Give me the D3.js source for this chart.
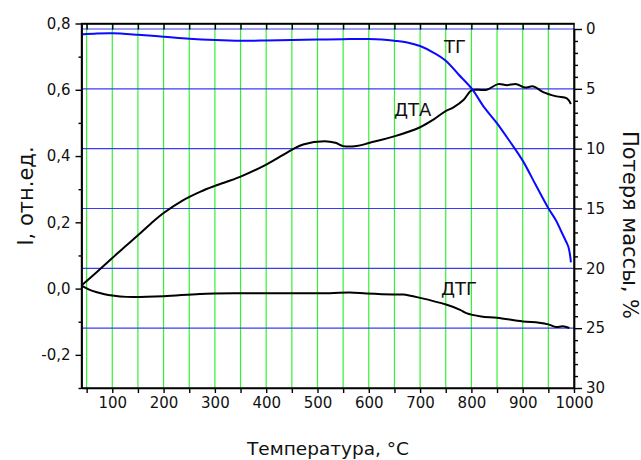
<!DOCTYPE html>
<html>
<head>
<meta charset="utf-8">
<script src="https://cdn.jsdelivr.net/npm/d3@7"></script>
<style>
  body { margin: 0; background: #fff; }
  svg text { font-family: "DejaVu Sans", sans-serif; fill: #111; }
  .axis path, .axis line { stroke: #000; stroke-width: 1.4; }
</style>
</head>
<body>
<div id="container"></div>
<script>
// temperatures (°C) and values
var tgT   = [40, 70, 100, 150, 200, 250, 300, 350, 400, 450, 500, 550, 600, 625, 650, 675, 700, 725, 750, 775, 800, 825, 850, 875, 900, 925, 950, 965, 975, 985, 989, 992, 994];
var tgV   = [0.46, 0.38, 0.36, 0.48, 0.64, 0.81, 0.92, 0.98, 0.96, 0.92, 0.88, 0.85, 0.84, 0.88, 0.98, 1.12, 1.42, 1.95, 2.65, 3.8, 4.95, 6.55, 7.88, 9.4, 11.0, 13.0, 14.98, 16.0, 16.9, 17.8, 18.2, 18.8, 19.5];

var dtaT  = [40, 70, 100, 125, 150, 175, 200, 236, 271, 300, 349, 401, 449, 472, 514, 535, 550, 576, 602, 651, 700, 726, 749, 765, 785, 800, 813, 830, 852, 869, 888, 904, 921, 940, 966, 986, 994];
var dtaV  = [0.009, 0.05, 0.092, 0.127, 0.161, 0.196, 0.228, 0.265, 0.292, 0.31, 0.337, 0.375, 0.418, 0.435, 0.445, 0.44, 0.43, 0.43, 0.44, 0.46, 0.487, 0.51, 0.535, 0.547, 0.57, 0.598, 0.6, 0.6, 0.617, 0.614, 0.617, 0.607, 0.61, 0.593, 0.58, 0.574, 0.557];

var dtgT  = [40, 55, 70, 85, 100, 128, 200, 271, 349, 450, 524, 563, 596, 648, 667, 700, 752, 778, 790, 819, 850, 900, 932, 950, 965, 978, 991];
var dtgV  = [0.009, -0.003, -0.011, -0.017, -0.021, -0.025, -0.023, -0.016, -0.014, -0.014, -0.014, -0.012, -0.015, -0.018, -0.018, -0.028, -0.049, -0.064, -0.074, -0.084, -0.088, -0.099, -0.103, -0.108, -0.116, -0.114, -0.119];

// ticks
var xMajor = [100, 200, 300, 400, 500, 600, 700, 800, 900, 1000];
var xMinor = [50, 150, 250, 350, 450, 550, 650, 750, 850, 950];
var yLMajor = [-0.2, 0, 0.2, 0.4, 0.6, 0.8];
var yLMinor = [-0.3, -0.1, 0.1, 0.3, 0.5, 0.7];
var yRMajor = [0, 5, 10, 15, 20, 25, 30];
var yRMinor = d3.range(0, 31).filter(function(d) { return d % 5 !== 0; });

(function() {
    var width = 641, height = 460;
    var plotLeft = 81.5, plotRight = 574, plotTop = 23.5, plotBottom = 388;

    var svg = d3.select("#container").append("svg")
        .attr("width", width)
        .attr("height", height);

    var x  = d3.scaleLinear().domain([40, 1000]).range([plotLeft, plotRight]);
    var yL = d3.scaleLinear().domain([-0.3, 0.8]).range([plotBottom, plotTop]);
    var yR = d3.scaleLinear().domain([30, 0]).range([plotBottom, 29]);

    // 0,2 style labels with a plain hyphen for negatives
    var comma = function(d) { return d.toFixed(1).replace(".", ","); };

    // grid: green verticals, blue horizontals on the right axis
    svg.append("g").selectAll("line")
        .data(xMinor.concat(xMajor.slice(0, -1)))
        .enter().append("line")
        .attr("x1", function(d) { return x(d); })
        .attr("x2", function(d) { return x(d); })
        .attr("y1", plotTop).attr("y2", plotBottom)
        .attr("stroke", "#33f233").attr("stroke-width", 1.2);

    svg.append("g").selectAll("line")
        .data(yRMajor.slice(0, -1))
        .enter().append("line")
        .attr("x1", plotLeft).attr("x2", plotRight)
        .attr("y1", function(d) { return yR(d); })
        .attr("y2", function(d) { return yR(d); })
        .attr("stroke", "#3b3bf5").attr("stroke-width", 1.2);

    // curves
    function series(t, v) { return t.map(function(d, i) { return [d, v[i]]; }); }

    var lineL = d3.line().x(function(d) { return x(d[0]); }).y(function(d) { return yL(d[1]); }).curve(d3.curveCatmullRom.alpha(0.5));
    var lineR = d3.line().x(function(d) { return x(d[0]); }).y(function(d) { return yR(d[1]); }).curve(d3.curveCatmullRom.alpha(0.5));

    svg.append("path").datum(series(dtaT, dtaV))
        .attr("d", lineL).attr("fill", "none").attr("stroke", "#000").attr("stroke-width", 2);
    svg.append("path").datum(series(dtgT, dtgV))
        .attr("d", lineL).attr("fill", "none").attr("stroke", "#000").attr("stroke-width", 2);
    svg.append("path").datum(series(tgT, tgV))
        .attr("d", lineR).attr("fill", "none").attr("stroke", "#0a0aff").attr("stroke-width", 2);

    // axes
    svg.append("g").attr("class", "axis")
        .attr("transform", "translate(0," + plotBottom + ")")
        .call(d3.axisBottom(x).tickValues(xMajor.concat(xMinor)).tickSize(5).tickSizeOuter(0).tickPadding(4)
            .tickFormat(function(d) { return d % 100 === 0 ? d : ""; }))
        .selectAll("text").style("font-size", "15px");

    svg.append("g").attr("class", "axis")
        .attr("transform", "translate(0," + plotTop + ")")
        .call(d3.axisTop(x).tickValues(xMinor.concat(xMajor.slice(0, -1))).tickSize(-6).tickSizeOuter(0).tickFormat(""));

    svg.append("g").attr("class", "axis")
        .attr("transform", "translate(" + plotLeft + ",0)")
        .call(d3.axisLeft(yL).tickValues(yLMajor).tickSize(6).tickSizeOuter(0).tickPadding(5).tickFormat(comma))
        .selectAll("text").style("font-size", "15px");
    svg.append("g").attr("class", "axis")
        .attr("transform", "translate(" + plotLeft + ",0)")
        .call(d3.axisLeft(yL).tickValues(yLMinor).tickSize(3).tickSizeOuter(0).tickFormat(""));

    svg.append("g").attr("class", "axis")
        .attr("transform", "translate(" + plotRight + ",0)")
        .call(d3.axisRight(yR).tickValues(yRMajor).tickSize(8).tickSizeOuter(0).tickPadding(4))
        .selectAll("text").style("font-size", "15px");
    svg.append("g").attr("class", "axis")
        .attr("transform", "translate(" + plotRight + ",0)")
        .call(d3.axisRight(yR).tickValues(yRMinor).tickSize(4).tickSizeOuter(0).tickFormat(""));

    // frame
    svg.append("rect")
        .attr("x", plotLeft).attr("y", plotTop)
        .attr("width", plotRight - plotLeft).attr("height", plotBottom - plotTop)
        .attr("fill", "none").attr("stroke", "#000").attr("stroke-width", 1.4);

    // curve labels
    svg.append("text").attr("x", 444).attr("y", 53).style("font-size", "18px").text("ТГ");
    svg.append("text").attr("x", 394).attr("y", 116).style("font-size", "18px").text("ДТА");
    svg.append("text").attr("x", 441).attr("y", 295).style("font-size", "18px").text("ДТГ");

    // axis titles
    svg.append("text")
        .attr("transform", "translate(328,455)")
        .attr("text-anchor", "middle").style("font-size", "18.5px")
        .text("Температура, °C");
    svg.append("text")
        .attr("transform", "translate(33,196)rotate(-90)")
        .attr("text-anchor", "middle").style("font-size", "21px")
        .text("I, отн.ед.");
    svg.append("text")
        .attr("transform", "translate(623,225)rotate(90)")
        .attr("text-anchor", "middle").style("font-size", "21px")
        .text("Потеря массы, %");
})();
</script>
</body>
</html>
